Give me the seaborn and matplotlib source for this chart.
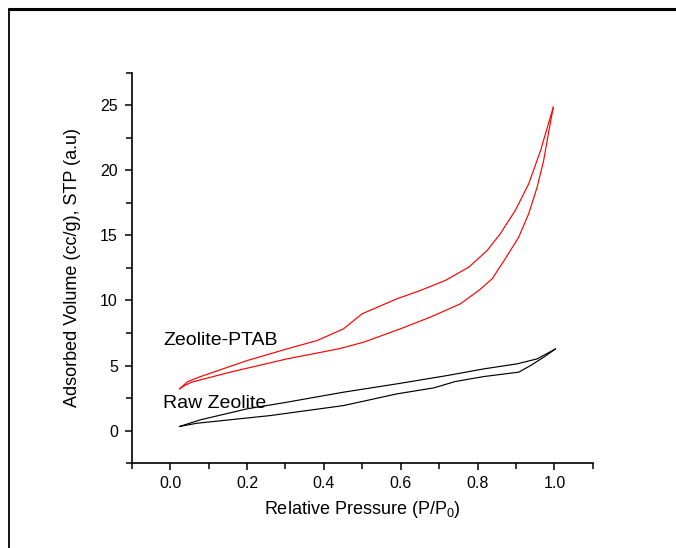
import numpy as np
import pandas as pd
import matplotlib.pyplot as plt
from matplotlib.lines import Line2D
from matplotlib.ticker import MultipleLocator
import seaborn as sns

# Zeolite-PTAB isotherm (adsorption and desorption branches)
ptab_ads_p = [0.024, 0.040, 0.056, 0.156, 0.304, 0.438, 0.503, 0.599, 0.677, 0.755, 0.803,
              0.838, 0.872, 0.907, 0.933, 0.955, 0.972, 0.985, 0.997]
ptab_ads_v = [3.2, 3.5, 3.72, 4.49, 5.51, 6.28, 6.79, 7.82, 8.72, 9.74, 10.77,
              11.67, 13.21, 14.87, 16.67, 18.72, 20.77, 22.95, 24.87]
ptab_des_p = [0.024, 0.045, 0.074, 0.20, 0.304, 0.382, 0.451, 0.499, 0.590, 0.651, 0.716,
              0.777, 0.825, 0.859, 0.898, 0.933, 0.964, 0.997]
ptab_des_v = [3.2, 3.75, 4.1, 5.38, 6.28, 6.92, 7.82, 8.97, 10.13, 10.77, 11.54,
              12.56, 13.85, 15.13, 16.92, 18.97, 21.54, 24.87]

# Raw zeolite isotherm
raw_ads_p = [0.024, 0.069, 0.26, 0.451, 0.590, 0.686, 0.742, 0.816, 0.907, 0.938, 0.972, 1.003]
raw_ads_v = [0.31, 0.56, 1.15, 1.92, 2.82, 3.28, 3.77, 4.15, 4.49, 5.0, 5.64, 6.28]
raw_des_p = [0.024, 0.078, 0.20, 0.304, 0.451, 0.590, 0.721, 0.816, 0.903, 0.955, 1.003]
raw_des_v = [0.31, 0.82, 1.67, 2.18, 2.95, 3.59, 4.23, 4.74, 5.13, 5.51, 6.28]

sns.set_style("ticks")
plt.rcParams['font.family'] = ['Liberation Sans', 'DejaVu Sans']
plt.rcParams['mathtext.default'] = 'regular'
plt.rcParams['text.color'] = 'black'
plt.rcParams['axes.labelcolor'] = 'black'

fig = plt.figure(figsize=(6.76, 5.48), dpi=100)
ax = fig.add_axes([0.195, 0.155, 0.682, 0.712])

for p, v, c in [(ptab_ads_p, ptab_ads_v, 'red'), (ptab_des_p, ptab_des_v, 'red'),
                (raw_ads_p, raw_ads_v, 'black'), (raw_des_p, raw_des_v, 'black')]:
    sns.lineplot(x=p, y=v, sort=False, estimator=None, color=c, lw=0.85, ax=ax)

ax.set_xlim(-0.1, 1.1)
ax.set_ylim(-2.5, 27.5)
ax.xaxis.set_major_locator(MultipleLocator(0.2))
ax.xaxis.set_minor_locator(MultipleLocator(0.1))
ax.yaxis.set_major_locator(MultipleLocator(5))
ax.yaxis.set_minor_locator(MultipleLocator(2.5))
ax.tick_params(which='major', length=5, width=1.1, labelsize=11.5, pad=4, colors='black')
ax.tick_params(axis='y', which='major', pad=5)
ax.tick_params(which='minor', length=4, width=1.1, colors='black')
ax.xaxis.set_major_formatter(plt.FuncFormatter(lambda v, _: f"{v:.1f}"))
sns.despine(ax=ax)
for s in ['left', 'bottom']:
    ax.spines[s].set_linewidth(1.2)
    ax.spines[s].set_color('black')

ax.set_xlabel('Relative Pressure (P/P$_0$)', fontsize=13, labelpad=6)
ax.set_ylabel('Adsorbed Volume (cc/g), STP (a.u)', fontsize=13, labelpad=14)

ax.text(-0.018, 6.9, 'Zeolite-PTAB', fontsize=14, va='center', ha='left', color='black')
ax.text(-0.018, 2.1, 'Raw Zeolite', fontsize=14, va='center', ha='left', color='black')

# page frame (top and left edges)
fig.add_artist(Line2D([9 / 676, 1], [1 - 9 / 548, 1 - 9 / 548], color='black', lw=2.2,
                      transform=fig.transFigure))
fig.add_artist(Line2D([9 / 676, 9 / 676], [0, 1 - 9 / 548], color='black', lw=1.3,
                      transform=fig.transFigure))

fig.savefig('out.png', dpi=100)
